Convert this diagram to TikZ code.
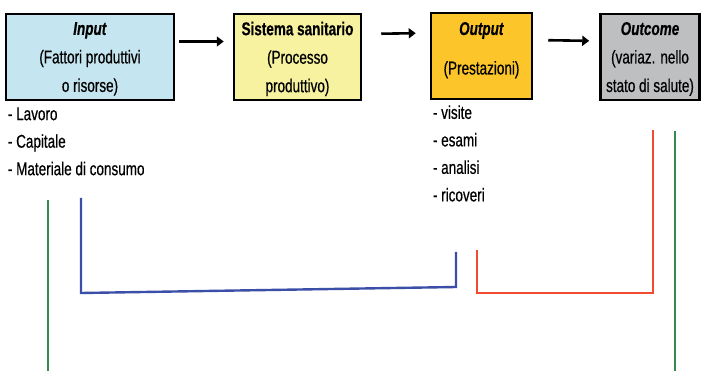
\documentclass[tikz,border=0pt]{standalone}
\usepackage{fontspec}
\setmainfont{Liberation Sans}[FakeStretch=0.73, FakeBold=0.5]
\usepackage{tikz}
\usetikzlibrary{arrows.meta,positioning}
\usepackage{xcolor}
\definecolor{inputcol}{RGB}{197,230,240}
\definecolor{sistemacol}{RGB}{246,242,160}
\definecolor{outputcol}{RGB}{252,198,42}
\definecolor{outcomecol}{RGB}{190,191,193}
\definecolor{bluebar}{RGB}{59,79,168}
\definecolor{redbar}{RGB}{240,74,48}
\definecolor{greenbar}{RGB}{50,140,80}

\begin{document}
\begin{tikzpicture}[
        x=1pt, y=-1pt,
        every node/.style={font=\fontsize{18.5}{28.5}\selectfont},
        box/.style={draw, line width=2.5pt, minimum height=86pt, align=center, inner sep=0pt, text depth=0pt},
        elenco/.style={align=left, anchor=north west, inner sep=0pt, font=\fontsize{18.5}{27.5}\selectfont},
        freccia/.style={-{Triangle[length=7pt,width=10pt]}, line width=2.6pt},
        barra/.style={line width=2.4pt}
    ]
    \useasboundingbox (0,0) rectangle (701,371);
    \node[box, fill=inputcol, minimum width=168pt] (input) at (90,57) {\textbf{\textit{Input}}\\ (Fattori produttivi\\ o risorse)};
    \node[box, fill=sistemacol, minimum width=127pt] (sistema) at (297.5,57) {\textbf{Sistema sanitario}\\ (Processo\\ produttivo)};
    \node[box, fill=outputcol, minimum width=101pt] (output) at (481.5,56) {\textbf{\textit{Output}}\\[11pt] (Prestazioni)\\[-13pt] \mbox{}};
    \node[box, fill=outcomecol, minimum width=99pt] (outcome) at (650,57) {\textbf{\textit{Outcome}}\\ (variaz. nello\\ stato di salute)};

    \draw[freccia, shorten <=4pt, shorten >=9pt] ([yshift=15.5pt]input.east) -- ([yshift=15.5pt]sistema.west);
    \draw[freccia, shorten <=19pt, shorten >=14pt] ([yshift=23pt]sistema.east) -- ([yshift=23pt]output.west);
    \draw[freccia, shorten <=15pt, shorten >=10pt] ([yshift=16pt]output.east) -- ([yshift=16pt]outcome.west);

    \node[elenco] (risorse) at ([xshift=3pt,yshift=-6pt]input.south west) {- Lavoro\\ - Capitale\\ - Materiale di consumo};
    \node[elenco] (prestazioni) at ([xshift=3pt,yshift=-5pt]output.south west) {- visite\\ - esami\\ - analisi\\ - ricoveri};

    % parentesi sotto gli elenchi
    \draw[barra, color=bluebar] (81,198) -- (81,293) -- (456,287) -- (456,252);
    \draw[barra, color=redbar] (477,250) -- (477,293) -- (653,293) -- (653,130);
    \draw[line width=2pt, color=greenbar] (47.5,200) -- (47.5,371);
    \draw[line width=2pt, color=greenbar] (674.5,131) -- (674.5,371);
\end{tikzpicture}
\end{document}
